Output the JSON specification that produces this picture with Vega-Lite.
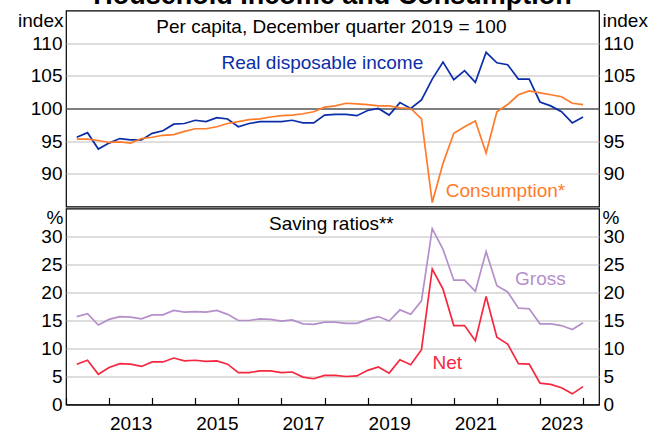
{
  "$schema": "https://vega.github.io/schema/vega-lite/v6.json",
  "padding": {"top": -18.5, "left": 16, "right": 5, "bottom": 5},
  "background": "white",
  "title": {"text": "Household Income and Consumption", "fontSize": 27, "fontWeight": "bold", "font": "Liberation Sans", "color": "black", "anchor": "middle", "offset": 0},
  "datasets": {
    "quarters": [
      {"t": 2012.25, "income": 95.6, "consumption": 95.3, "gross": 15.7, "net": 7.2},
      {"t": 2012.5, "income": 96.3, "consumption": 95.3, "gross": 16.2, "net": 7.9},
      {"t": 2012.75, "income": 93.8, "consumption": 95.1, "gross": 14.2, "net": 5.4},
      {"t": 2013.0, "income": 94.7, "consumption": 94.8, "gross": 15.2, "net": 6.6},
      {"t": 2013.25, "income": 95.4, "consumption": 94.9, "gross": 15.7, "net": 7.3},
      {"t": 2013.5, "income": 95.2, "consumption": 94.7, "gross": 15.6, "net": 7.2},
      {"t": 2013.75, "income": 95.2, "consumption": 95.4, "gross": 15.3, "net": 6.8},
      {"t": 2014.0, "income": 96.2, "consumption": 95.6, "gross": 16.0, "net": 7.6},
      {"t": 2014.25, "income": 96.6, "consumption": 95.9, "gross": 16.0, "net": 7.6},
      {"t": 2014.5, "income": 97.6, "consumption": 96.0, "gross": 16.8, "net": 8.3},
      {"t": 2014.75, "income": 97.7, "consumption": 96.5, "gross": 16.5, "net": 7.8},
      {"t": 2015.0, "income": 98.2, "consumption": 96.9, "gross": 16.6, "net": 7.9},
      {"t": 2015.25, "income": 98.0, "consumption": 96.9, "gross": 16.5, "net": 7.7},
      {"t": 2015.5, "income": 98.6, "consumption": 97.2, "gross": 16.8, "net": 7.8},
      {"t": 2015.75, "income": 98.4, "consumption": 97.7, "gross": 16.1, "net": 7.2},
      {"t": 2016.0, "income": 97.2, "consumption": 98.0, "gross": 15.0, "net": 5.7},
      {"t": 2016.25, "income": 97.7, "consumption": 98.3, "gross": 15.0, "net": 5.7},
      {"t": 2016.5, "income": 98.0, "consumption": 98.4, "gross": 15.3, "net": 6.0},
      {"t": 2016.75, "income": 98.0, "consumption": 98.7, "gross": 15.2, "net": 6.0},
      {"t": 2017.0, "income": 98.0, "consumption": 98.9, "gross": 14.9, "net": 5.7},
      {"t": 2017.25, "income": 98.2, "consumption": 99.0, "gross": 15.1, "net": 5.8},
      {"t": 2017.5, "income": 97.8, "consumption": 99.2, "gross": 14.4, "net": 4.9},
      {"t": 2017.75, "income": 97.8, "consumption": 99.5, "gross": 14.3, "net": 4.6},
      {"t": 2018.0, "income": 99.0, "consumption": 100.2, "gross": 14.7, "net": 5.2},
      {"t": 2018.25, "income": 99.1, "consumption": 100.4, "gross": 14.7, "net": 5.2},
      {"t": 2018.5, "income": 99.1, "consumption": 100.8, "gross": 14.5, "net": 5.0},
      {"t": 2018.75, "income": 98.9, "consumption": 100.7, "gross": 14.5, "net": 5.1},
      {"t": 2019.0, "income": 99.7, "consumption": 100.6, "gross": 15.2, "net": 6.1},
      {"t": 2019.25, "income": 100.0, "consumption": 100.4, "gross": 15.7, "net": 6.7},
      {"t": 2019.5, "income": 99.0, "consumption": 100.4, "gross": 14.9, "net": 5.6},
      {"t": 2019.75, "income": 100.9, "consumption": 100.1, "gross": 16.9, "net": 8.0},
      {"t": 2020.0, "income": 100.0, "consumption": 100.0, "gross": 16.1, "net": 7.1},
      {"t": 2020.25, "income": 101.3, "consumption": 98.4, "gross": 18.5, "net": 9.8},
      {"t": 2020.5, "income": 104.5, "consumption": 85.6, "gross": 31.4, "net": 24.2},
      {"t": 2020.75, "income": 107.1, "consumption": 91.6, "gross": 27.7, "net": 20.6},
      {"t": 2021.0, "income": 104.4, "consumption": 96.2, "gross": 22.2, "net": 14.1},
      {"t": 2021.25, "income": 105.8, "consumption": 97.2, "gross": 22.2, "net": 14.1},
      {"t": 2021.5, "income": 104.0, "consumption": 98.1, "gross": 20.2, "net": 11.4},
      {"t": 2021.75, "income": 108.6, "consumption": 93.2, "gross": 27.3, "net": 19.3},
      {"t": 2022.0, "income": 107.0, "consumption": 99.5, "gross": 21.2, "net": 12.0},
      {"t": 2022.25, "income": 106.7, "consumption": 100.6, "gross": 20.1, "net": 10.8},
      {"t": 2022.5, "income": 104.5, "consumption": 102.1, "gross": 17.2, "net": 7.3},
      {"t": 2022.75, "income": 104.5, "consumption": 102.7, "gross": 17.1, "net": 7.2},
      {"t": 2023.0, "income": 101.0, "consumption": 102.4, "gross": 14.4, "net": 3.8},
      {"t": 2023.25, "income": 100.4, "consumption": 102.1, "gross": 14.4, "net": 3.6},
      {"t": 2023.5, "income": 99.5, "consumption": 101.8, "gross": 14.1, "net": 3.0},
      {"t": 2023.75, "income": 97.8, "consumption": 100.8, "gross": 13.4, "net": 1.9},
      {"t": 2024.0, "income": 98.7, "consumption": 100.6, "gross": 14.6, "net": 3.2}
    ]
  },
  "vconcat": [
    {
      "width": 533,
      "height": 196,
      "layer": [
        {
          "data": {"name": "quarters"},
          "mark": {"type": "line", "color": "#0b2ea8", "strokeWidth": 1.7},
          "encoding": {
            "x": {"field": "t", "type": "quantitative", "scale": {"domain": [2012, 2024.37], "nice": false, "zero": false}, "axis": null},
            "y": {"field": "income", "type": "quantitative", "scale": {"domain": [85, 115], "nice": false, "zero": false},
              "axis": {"orient": "left", "values": [90, 95, 100, 105, 110], "grid": true, "labelPadding": 4,
                "gridColor": {"condition": {"test": "datum.value === 100", "value": "#555555"}, "value": "#bdbdbd"},
                "gridWidth": {"condition": {"test": "datum.value === 100", "value": 1.5}, "value": 1.2},
                "title": "index", "titleAngle": 0, "titleAlign": "right", "titleBaseline": "middle", "titleX": -3, "titleY": 10}}
          }
        },
        {
          "data": {"name": "quarters"},
          "mark": {"type": "line", "color": "#ff7b2a", "strokeWidth": 1.7},
          "encoding": {
            "x": {"field": "t", "type": "quantitative", "axis": null},
            "y": {"field": "consumption", "type": "quantitative",
              "axis": {"orient": "right", "values": [90, 95, 100, 105, 110], "grid": false, "labelPadding": 4,
                "title": "index", "titleAngle": 0, "titleAlign": "left", "titleBaseline": "middle", "titleX": 3, "titleY": 10}}
          }
        },
        {
          "data": {"values": [{"label": "Per capita, December quarter 2019 = 100"}]},
          "mark": {"type": "text", "color": "black", "fontSize": 19, "baseline": "middle", "align": "center"},
          "encoding": {"x": {"datum": 2018.16, "type": "quantitative", "axis": null}, "y": {"datum": 112.5, "type": "quantitative", "axis": null}, "text": {"field": "label"}}
        },
        {
          "data": {"values": [{"label": "Real disposable income"}]},
          "mark": {"type": "text", "color": "#0b2ea8", "fontSize": 19, "baseline": "middle", "align": "center"},
          "encoding": {"x": {"datum": 2017.95, "type": "quantitative", "axis": null}, "y": {"datum": 107.0, "type": "quantitative", "axis": null}, "text": {"field": "label"}}
        },
        {
          "data": {"values": [{"label": "Consumption*"}]},
          "mark": {"type": "text", "color": "#ff7b2a", "fontSize": 19, "baseline": "middle", "align": "center"},
          "encoding": {"x": {"datum": 2022.2, "type": "quantitative", "axis": null}, "y": {"datum": 87.4, "type": "quantitative", "axis": null}, "text": {"field": "label"}}
        }
      ],
      "resolve": {"axis": {"y": "independent"}}
    },
    {
      "width": 533,
      "height": 196,
      "layer": [
        {
          "data": {"name": "quarters"},
          "mark": {"type": "line", "color": "#b48fca", "strokeWidth": 1.7},
          "encoding": {
            "x": {"field": "t", "type": "quantitative", "scale": {"domain": [2012, 2024.37], "nice": false, "zero": false},
              "axis": {"orient": "bottom", "values": [2012, 2013, 2014, 2015, 2016, 2017, 2018, 2019, 2020, 2021, 2022, 2023, 2024], "format": "d",
                "labelExpr": "datum.value % 2 === 1 ? datum.label : ''", "labelOffset": 21.6, "labelOverlap": false, "labelFlush": false,
                "ticks": true, "tickSize": -7, "tickColor": "black", "tickWidth": 1.2, "labelPadding": 16.5, "grid": false, "title": null}},
            "y": {"field": "gross", "type": "quantitative", "scale": {"domain": [0, 35], "nice": false, "zero": false},
              "axis": {"orient": "left", "values": [0, 5, 10, 15, 20, 25, 30], "grid": true, "labelPadding": 4,
                "gridColor": {"condition": {"test": "datum.value === 0", "value": "black"}, "value": "#bdbdbd"},
                "gridWidth": 1.2,
                "title": "%", "titleAngle": 0, "titleAlign": "right", "titleBaseline": "middle", "titleX": -3, "titleY": 9}}
          }
        },
        {
          "data": {"name": "quarters"},
          "mark": {"type": "line", "color": "#f5283f", "strokeWidth": 1.7},
          "encoding": {
            "x": {"field": "t", "type": "quantitative"},
            "y": {"field": "net", "type": "quantitative",
              "axis": {"orient": "right", "values": [0, 5, 10, 15, 20, 25, 30], "grid": false, "labelPadding": 4,
                "title": "%", "titleAngle": 0, "titleAlign": "left", "titleBaseline": "middle", "titleX": 3, "titleY": 9}}
          }
        },
        {
          "data": {"values": [{"label": "Saving ratios**"}]},
          "mark": {"type": "text", "color": "black", "fontSize": 19, "baseline": "middle", "align": "center"},
          "encoding": {"x": {"datum": 2018.16, "type": "quantitative"}, "y": {"datum": 32.2, "type": "quantitative", "axis": null}, "text": {"field": "label"}}
        },
        {
          "data": {"values": [{"label": "Gross"}]},
          "mark": {"type": "text", "color": "#b48fca", "fontSize": 19, "baseline": "middle", "align": "center"},
          "encoding": {"x": {"datum": 2023.01, "type": "quantitative"}, "y": {"datum": 22.5, "type": "quantitative", "axis": null}, "text": {"field": "label"}}
        },
        {
          "data": {"values": [{"label": "Net"}]},
          "mark": {"type": "text", "color": "#f5283f", "fontSize": 19, "baseline": "middle", "align": "center"},
          "encoding": {"x": {"datum": 2020.85, "type": "quantitative"}, "y": {"datum": 7.5, "type": "quantitative", "axis": null}, "text": {"field": "label"}}
        }
      ],
      "resolve": {"axis": {"y": "independent"}}
    }
  ],
  "spacing": 0,
  "config": {
    "font": "Liberation Sans",
    "view": {"stroke": "black", "strokeWidth": 1.2},
    "axis": {"labelFont": "Liberation Sans", "labelFontSize": 19, "labelColor": "black", "titleFont": "Liberation Sans", "titleFontSize": 19, "titleFontWeight": "normal", "titleColor": "black", "domain": false, "ticks": false}
  }
}
